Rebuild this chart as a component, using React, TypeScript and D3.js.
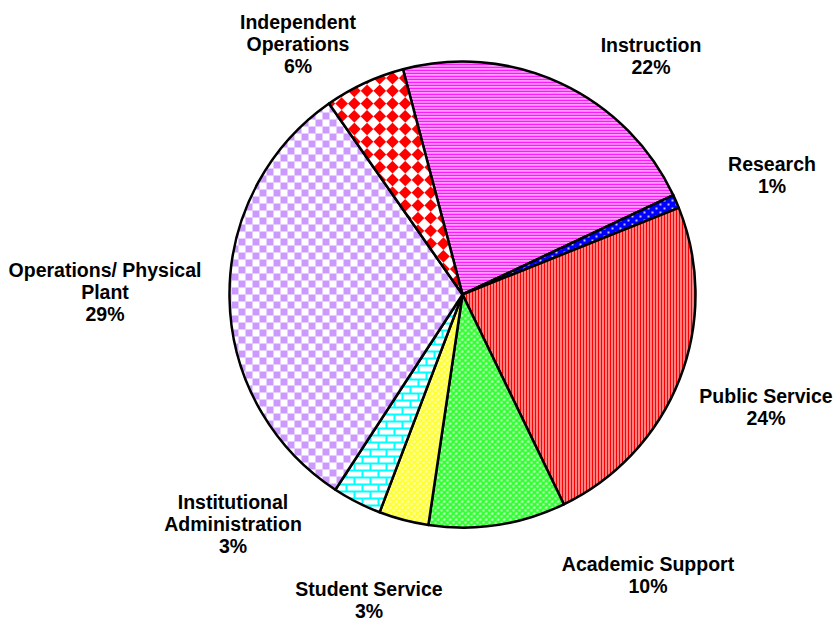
import React from "react";
import * as d3 from "d3";

const categories = [
  "Instruction",
  "Research",
  "Public Service",
  "Academic Support",
  "Student Service",
  "Institutional Administration",
  "Operations/ Physical Plant",
  "Independent Operations",
];
const values = [22.1, 0.95, 23.9, 9.5, 3.45, 3.4, 31.1, 5.6];
const percentLabels = ["22%", "1%", "24%", "10%", "3%", "3%", "29%", "6%"];
const labelLines = [
  ["Instruction"],
  ["Research"],
  ["Public Service"],
  ["Academic Support"],
  ["Student Service"],
  ["Institutional", "Administration"],
  ["Operations/ Physical", "Plant"],
  ["Independent", "Operations"],
];
const labelPos: [number, number][] = [
  [651, 52],
  [772, 171],
  [766, 403],
  [648, 571],
  [369, 596],
  [233, 509],
  [105, 277],
  [298, 29],
];

const W = 837;
const H = 622;
const cx = 462.5;
const cy = 294.5;
const R = 233;
const startDeg = -14.8;

const fills = [
  "url(#pInstr)",
  "url(#pRes)",
  "url(#pPub)",
  "url(#pAcad)",
  "url(#pStud)",
  "url(#pInst)",
  "url(#pOps)",
  "url(#pInd)",
];

export default function App() {
  const pie = d3
    .pie<number>()
    .sort(null)
    .value((d) => d)
    .startAngle((startDeg * Math.PI) / 180)
    .endAngle((startDeg * Math.PI) / 180 + 2 * Math.PI);
  const arcs = pie(values);
  const arc = d3.arc<d3.PieArcDatum<number>>().innerRadius(0).outerRadius(R);
  const lh = 22.2;

  return (
    <svg
      width={W}
      height={H}
      style={{ position: "absolute", left: 0, top: 0 }}
      fontFamily="'Liberation Sans', Arial, sans-serif"
    >
      <defs>
        <pattern id="pInstr" patternUnits="userSpaceOnUse" width={6} height={3}>
          <rect width={6} height={3} fill="#fff" />
          <rect width={6} height={1.8} fill="#FF00FF" />
        </pattern>
        <pattern id="pRes" patternUnits="userSpaceOnUse" width={8} height={8}>
          <rect width={8} height={8} fill="#0000FF" />
          <circle cx={2} cy={2} r={1} fill="#fff" />
          <circle cx={6} cy={6} r={1} fill="#fff" />
        </pattern>
        <pattern id="pPub" patternUnits="userSpaceOnUse" width={3} height={6}>
          <rect width={3} height={6} fill="#FFFFFF" />
          <rect width={2} height={6} fill="#FF0000" />
        </pattern>
        <pattern id="pAcad" patternUnits="userSpaceOnUse" width={6} height={6}>
          <rect width={6} height={6} fill="#fff" />
          <path d="M0,0 L6,6 M6,0 L0,6 M-1,5 L1,7 M5,-1 L7,1 M-1,1 L1,-1 M5,7 L7,5" stroke="#33FF33" strokeWidth={2.6} />
        </pattern>
        <pattern id="pStud" patternUnits="userSpaceOnUse" width={6} height={6}>
          <rect width={6} height={6} fill="#fff" />
          <path d="M0,0 L6,6 M6,0 L0,6 M-1,5 L1,7 M5,-1 L7,1 M-1,1 L1,-1 M5,7 L7,5" stroke="#FFFF33" strokeWidth={2.6} />
        </pattern>
        <pattern id="pInst" patternUnits="userSpaceOnUse" width={16} height={14}>
          <rect width={16} height={14} fill="#fff" />
          <path d="M0,1 H16 M0,8 H16 M4,1 V8 M12,8 V14" stroke="#00FFFF" strokeWidth={2} />
        </pattern>
        <pattern id="pOps" patternUnits="userSpaceOnUse" width={14} height={14}>
          <rect width={14} height={14} fill="#fff" />
          <rect width={7} height={7} fill="#CC99FF" />
          <rect x={7} y={7} width={7} height={7} fill="#CC99FF" />
        </pattern>
        <pattern
          id="pInd"
          patternUnits="userSpaceOnUse"
          width={18}
          height={18}
          patternTransform="rotate(45)"
        >
          <rect width={18} height={18} fill="#FF0000" />
          <rect width={9} height={9} fill="#fff" />
          <rect x={9} y={9} width={9} height={9} fill="#fff" />
        </pattern>
      </defs>
      <g transform={`translate(${cx},${cy})`}>
        {arcs.map((a, i) => (
          <path
            key={categories[i]}
            d={arc(a) || ""}
            fill={fills[i]}
            stroke="#000"
            strokeWidth={2.5}
            strokeLinejoin="round"
          />
        ))}
      </g>
      {categories.map((c, i) => {
        const [x, y] = labelPos[i];
        const lines = [...labelLines[i], percentLabels[i]];
        return (
          <text
            key={c}
            x={x}
            y={y}
            textAnchor="middle"
            fontWeight="bold"
            fontSize={19.5}
            fill="#000"
          >
            {lines.map((l, j) => (
              <tspan key={j} x={x} dy={j === 0 ? 0 : lh}>
                {l}
              </tspan>
            ))}
          </text>
        );
      })}
    </svg>
  );
}
